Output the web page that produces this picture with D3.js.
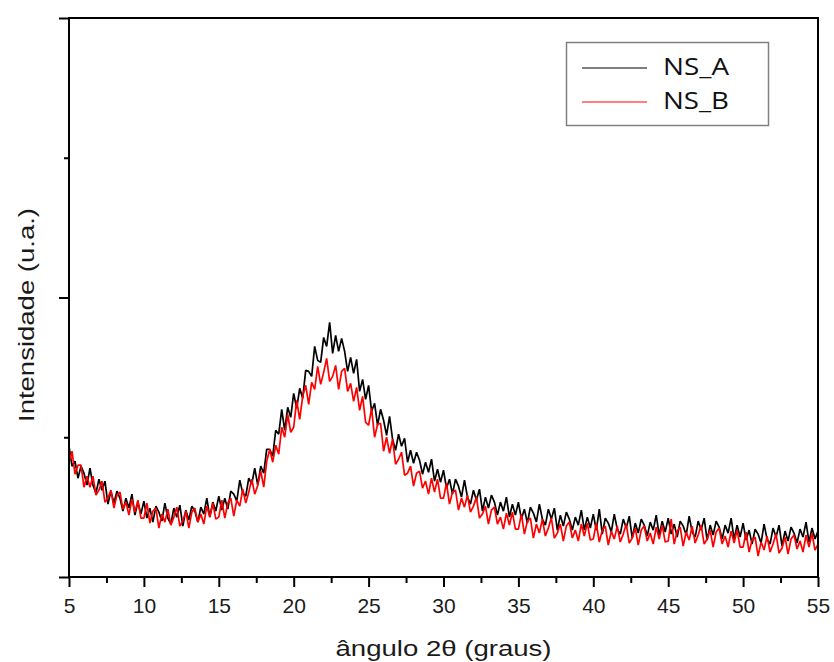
<!DOCTYPE html>
<html>
<head>
<meta charset="utf-8">
<style>
  body { margin: 0; background: #fff; }
  svg text { font-family: "Liberation Sans", Arial, sans-serif; }
  .legend text { font-family: "Open Sans", sans-serif; }
</style>
</head>
<body>
<div id="chart"></div>
<script src="https://d3js.org/d3.v7.min.js"></script>
<script>
// scan: 2theta from 5 to 55 deg, step 0.2 deg
const angleStart = 5;
const angleStep = 0.2;

// NS_A intensity (u.a.), one value per step
const nsA = [
  131, 111, 116, 99, 111,   104, 92, 109, 92, 84,   98, 87, 96, 73, 86,
  74, 86, 79, 66, 79,   69, 83, 62, 75, 63,   76, 59, 69, 55, 71,
  65, 56, 74, 59, 53,   69, 60, 72, 51, 67,   57, 71, 66, 55, 70,
  63, 79, 60, 75, 66,   81, 67, 79, 68, 86,   83, 76, 97, 84, 81,
  99, 93, 109, 92, 111,   104, 128, 128, 121, 147,   143, 168, 147, 170, 160,
  184, 169, 189, 179, 207,   206, 201, 231, 217, 215,   240, 231, 255, 224, 242,
  226, 239, 226, 206, 220,   204, 218, 186, 198, 178,   192, 166, 174, 152, 168,
  157, 142, 161, 138, 127,   143, 131, 139, 115, 127,   114, 125, 117, 103, 115,
  105, 118, 96, 108, 95,   107, 89, 98, 83, 98,   91, 80, 97, 80, 73,
  87, 77, 88, 66, 80,   69, 82, 75, 62, 75,   66, 80, 60, 73, 62,
  75, 58, 68, 54, 70,   64, 55, 73, 58, 52,   68, 58, 69, 47, 62,
  51, 65, 58, 47, 60,   52, 67, 47, 60, 49,   63, 47, 68, 43, 59,
  54, 45, 63, 48, 43,   58, 49, 61, 39, 54,   44, 58, 52, 41, 55,
  47, 62, 42, 56, 45,   59, 43, 53, 40, 56,   51, 42, 61, 45, 40,
  56, 47, 59, 37, 52,   42, 56, 50, 38, 52,   44, 59, 38, 52, 40,
  54, 37, 47, 33, 48,   43, 34, 53, 38, 33,   49, 40, 52, 31, 46,
  36, 50, 44, 34, 48,   40, 55, 35, 49, 38,   46
];

// NS_B intensity (u.a.)
const nsB = [
  114, 126, 103, 112, 112,   90, 101, 90, 101, 82,   87, 96, 75, 79, 87,
  69, 82, 85, 68, 75,   62, 78, 65, 77, 59,   59, 74, 54, 66, 69,
  49, 63, 55, 68, 52,   60, 70, 51, 56, 66,   49, 65, 69, 55, 63,
  53, 71, 60, 74, 58,   60, 77, 59, 74, 79,   61, 77, 71, 88, 74,
  85, 98, 83, 92, 106,   90, 116, 128, 115, 132,   123, 150, 140, 163, 145,
  150, 177, 158, 181, 192,   173, 195, 188, 211, 193,   205, 219, 196, 201, 212,
  188, 206, 209, 186, 194,   176, 190, 167, 181, 155,   152, 169, 140, 153, 154,
  126, 140, 124, 138, 113,   118, 125, 102, 104, 111,   91, 104, 106, 89, 96,
  83, 99, 85, 98, 79,   79, 94, 73, 85, 87,   67, 79, 70, 82, 65,
  71, 80, 59, 63, 71,   53, 67, 70, 53, 60,   48, 64, 52, 65, 48,
  48, 63, 43, 56, 59,   39, 53, 44, 58, 41,   49, 59, 39, 44, 53,
  36, 51, 55, 39, 47,   36, 53, 41, 54, 37,   38, 54, 35, 47, 51,
  32, 46, 38, 51, 35,   43, 53, 34, 39, 49,   32, 47, 51, 36, 44,
  33, 50, 38, 52, 35,   36, 58, 33, 46, 50,   31, 45, 37, 51, 34,
  42, 52, 33, 38, 47,   30, 45, 49, 33, 41,   30, 46, 34, 47, 30,
  30, 45, 25, 37, 40,   21, 35, 27, 41, 25,   33, 43, 24, 29, 40,
  23, 38, 42, 28, 36,   25, 42, 30, 44, 27,   33
];

const seriesNames = ['NS_A', 'NS_B'];
const seriesColors = ['#000000', '#ff0000'];
const xMajorTicks = [5, 10, 15, 20, 25, 30, 35, 40, 45, 50, 55];
const xMinorTicks = [7.5, 12.5, 17.5, 22.5, 27.5, 32.5, 37.5, 42.5, 47.5, 52.5];
const yMajorTicks = [0, 280, 560];
const yMinorTicks = [140, 420];

const width = 834;
const height = 662;
const margin = { top: 18, right: 16, bottom: 85, left: 69 };

const svg = d3.select('#chart')
  .append('svg')
  .attr('width', width)
  .attr('height', height);

const x = d3.scaleLinear()
  .domain([5, 55])
  .range([margin.left, width - margin.right]);

const y = d3.scaleLinear()
  .domain([0, 560])
  .range([height - margin.bottom, margin.top]);

const toPoints = (vals) => vals.map((v, i) => ({ a: angleStart + i * angleStep, v: v }));

const line = d3.line()
  .x((d) => x(d.a))
  .y((d) => y(d.v));

// curves, NS_A first so NS_B sits on top
[nsA, nsB].forEach((vals, k) => {
  svg.append('path')
    .datum(toPoints(vals))
    .attr('fill', 'none')
    .attr('stroke', seriesColors[k])
    .attr('stroke-width', 1.7)
    .attr('stroke-linejoin', 'bevel')
    .attr('d', line);
});

// frame
svg.append('rect')
  .attr('x', x(5))
  .attr('y', y(560))
  .attr('width', x(55) - x(5))
  .attr('height', y(0) - y(560))
  .attr('fill', 'none')
  .attr('stroke', '#000')
  .attr('stroke-width', 2);

// x axis
const xAxis = svg.append('g')
  .attr('transform', `translate(0, ${y(0)})`)
  .call(d3.axisBottom(x).tickValues(xMajorTicks).tickSize(10).tickSizeOuter(0).tickPadding(11));
svg.append('g')
  .attr('transform', `translate(0, ${y(0)})`)
  .call(d3.axisBottom(x).tickValues(xMinorTicks).tickSize(6).tickSizeOuter(0).tickFormat(''));

// y axis (no labels)
svg.append('g')
  .attr('transform', `translate(${x(5)}, 0)`)
  .call(d3.axisLeft(y).tickValues(yMajorTicks).tickSize(10).tickSizeOuter(0).tickFormat(''));
svg.append('g')
  .attr('transform', `translate(${x(5)}, 0)`)
  .call(d3.axisLeft(y).tickValues(yMinorTicks).tickSize(5).tickSizeOuter(0).tickFormat(''));

svg.selectAll('.domain').remove();
svg.selectAll('.tick line').attr('stroke', '#000').attr('stroke-width', 2);
xAxis.selectAll('.tick text')
  .attr('font-size', 21)
  .attr('fill', '#1a1a1a')
  .attr('font-family', '"Liberation Sans", Arial, sans-serif');

// axis titles
svg.append('text')
  .attr('x', (x(5) + x(55)) / 2)
  .attr('y', 656)
  .attr('text-anchor', 'middle')
  .attr('font-size', 22)
  .attr('textLength', 216)
  .attr('lengthAdjust', 'spacingAndGlyphs')
  .attr('fill', '#1a1a1a')
  .text('ângulo 2θ (graus)');

svg.append('text')
  .attr('transform', 'translate(34, 315) rotate(-90)')
  .attr('text-anchor', 'middle')
  .attr('font-size', 22)
  .attr('textLength', 214)
  .attr('lengthAdjust', 'spacingAndGlyphs')
  .attr('fill', '#1a1a1a')
  .text('Intensidade (u.a.)');

// legend
const legend = svg.append('g').attr('class', 'legend');
legend.append('rect')
  .attr('x', 566.5)
  .attr('y', 42.5)
  .attr('width', 202)
  .attr('height', 83)
  .attr('fill', '#fff')
  .attr('stroke', '#808080')
  .attr('stroke-width', 1.5);

seriesNames.forEach((name, k) => {
  const ly = 68 + k * 34;
  legend.append('line')
    .attr('x1', 582).attr('x2', 647)
    .attr('y1', ly).attr('y2', ly)
    .attr('stroke', seriesColors[k])
    .attr('stroke-width', 1);
  legend.append('text')
    .attr('x', 663)
    .attr('y', ly + 7)
    .attr('font-size', 23)
    .attr('textLength', 66)
    .attr('lengthAdjust', 'spacingAndGlyphs')
    .attr('fill', '#111')
    .text(name);
});
</script>
</body>
</html>
